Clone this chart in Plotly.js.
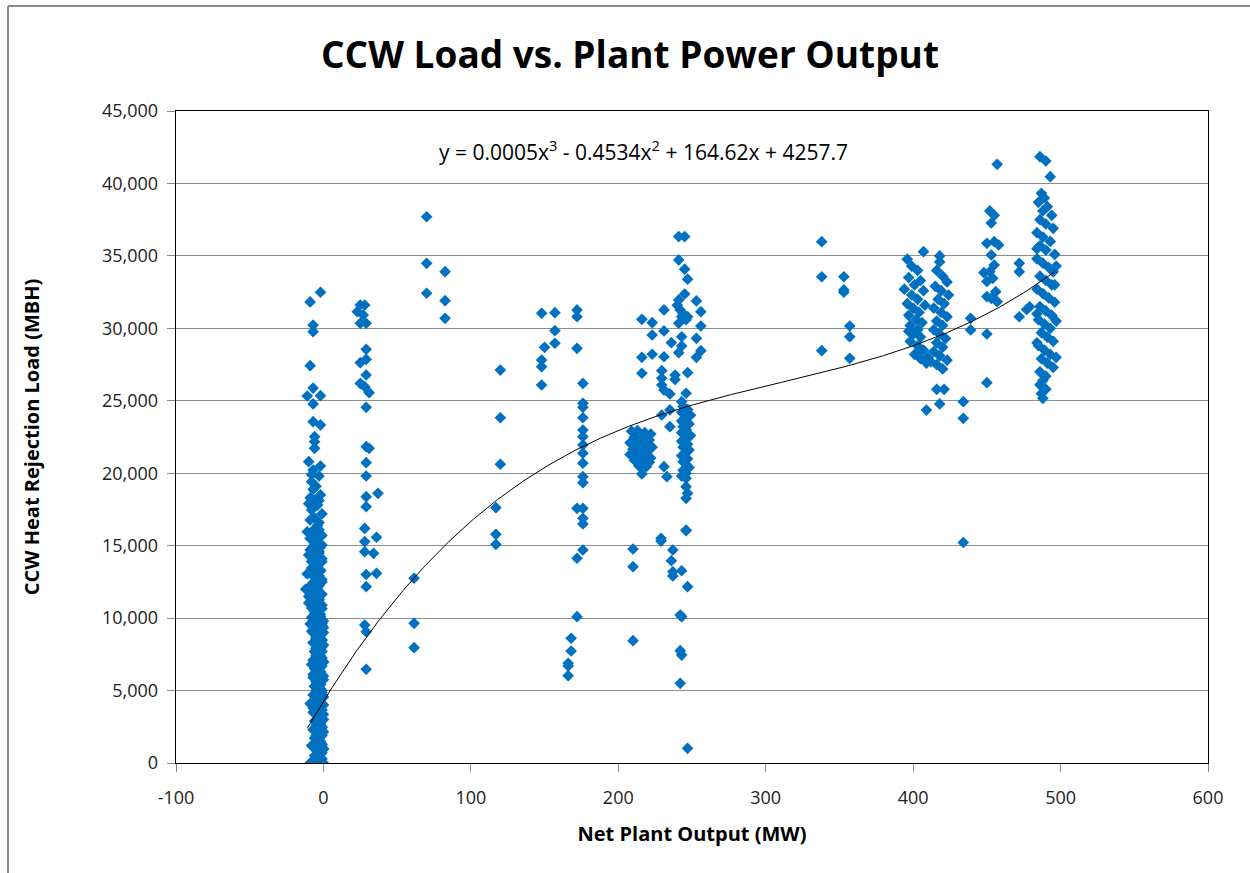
<!DOCTYPE html>
<html><head><meta charset="utf-8">
<script src="https://cdn.plot.ly/plotly-3.0.1.min.js"></script>
<style>html,body{margin:0;padding:0;background:#fff}#chart{width:1250px;height:873px}</style>
</head><body><div id="chart"></div>
<script>
// Net plant output (MW) and CCW heat rejection load (MBH), grouped by cluster
const offlineMW = [-2,-9,-7,-7,-9,-7,-11,-2,-7,-7,-2,-6,-6,-6,-10,-7,-3,-8,-7,-6,-3,-8,-9,-11,
  -5,-2,-9,-4,-1,-6,-3,-10,-2,-8,
  -4,-7,-2,-9,-5,-1,-8,-3,-10,-6,-1,-4,-8,-2,-11,-5,-1,-7,-3,-9,-12,-5,-1,-7,-3,-10,-4,-1,-6,-2,-8,
  -3,-6,-1,-4,-8,-2,-5,-1,-7,-3,-5,-1,-4,-2,-6,-3,-1,-5,-2,-7,-4,-1,-3,-6,-2,-4,-1,-5,-3,-1,-6,-2,-4,-1,-3,-5,-2,-1,-4,-2,-1,-3,-2,-1,-4,-2,-1,-3,-1,-5,-9,-6,-3,-1,0,-7,
  0,0,-1,0,0,-1,0,0,-1,0,-2,-2,-2,-2,-6,-5,-5,-7,-5,-8,-9,-10,-9,-8];
const offlineMBH = [32490,31820,30230,29770,27420,25880,25330,25350,24780,23560,23330,22520,22180,21720,20800,20220,19810,19420,18890,18150,18110,17460,16770,15960,
  19100,18500,18300,17800,17200,16900,16600,17900,20500,19900,
  16400,16050,15800,15500,15300,15050,14800,14600,14350,14150,13900,13700,13450,13250,13050,12850,12650,12450,12250,12050,12000,11850,11650,11450,11250,11050,10850,10650,10450,10250,10050,
  9900,9700,9500,9300,9100,8900,8700,8500,8300,8100,7900,7700,7500,7300,7100,6900,6700,6500,6300,6100,5900,5700,5500,5300,5100,4900,4700,4500,4300,4100,3900,3700,3500,3300,3100,2900,2700,2500,2300,2100,1900,1700,1500,1300,1100,900,700,500,300,150,0,0,0,0,0,100,
  9800,9000,8000,7000,6000,5000,4000,3000,2000,1000,8600,6600,4400,2400,9200,7600,5600,3800,1800,6800,9600,11500,4100,1200];

// the solid part of the offline column
const offlineDenseMW = [-1,-5,-3,-6,-2,-4,0,-7,-1,-5,-3,-6,-2,-4,0,-7,-1,-5,-3,-6,-2,-4,0,-7,-1,-5,-3,-6,-2,-4,0,-7,
  -1,-5,-3,-6,-2,-4,0,-7,-1,-5,-3,-6,-2,-4,0,-7,-1,-5,-3,-6,-2,-4,0,-7,-1,-5,-3,-6,-2,-4,0,-7,-1,-5,-3,
  -2,-6,-4,-8,-1,-5,-3,-9,-2,-6,-4,-8,-1,-5,-3,-9,-2,-6,-4,-8,-1,-5,-3,-9,-2,-6,-4,-8,-1,-5,-3,
  -3,-4,-2,-5,-3,-4,-2,-5,-3,-4,-2,-5,-3,-4,-2,-5,-3,-4,-2,-5];
const offlineDenseMBH = [50,200,350,500,650,800,950,1100,1250,1400,1550,1700,1850,2000,2150,2300,2450,2600,2750,2900,3050,3200,3350,3500,3650,3800,3950,4100,4250,4400,4550,4700,
  4850,5000,5150,5300,5450,5600,5750,5900,6050,6200,6350,6500,6650,6800,6950,7100,7250,7400,7550,7700,7850,8000,8150,8300,8450,8600,8750,8900,9050,9200,9350,9500,9650,9800,9950,
  10100,10300,10500,10700,10900,11100,11300,11500,11700,11900,12100,12300,12500,12700,12900,13100,13300,13500,13700,13900,14100,14300,14500,14700,14900,15100,15300,15500,15700,15900,16100,
  400,900,1400,1900,2400,2900,3400,3900,4400,4900,5400,5900,6400,6900,7400,7900,8400,8900,9400,9900];

const lowLoadMW = [25,28,23,27,25,29,29,25,29,29,25,28,31,29,29,31,29,29,37,29,29,28,36,28,28,34,36,29,29,28,29,
  61.5,61.5,61.5,70,70,70,82.5,82.5,82.5,120,120,120,117,117,117,29];
const lowLoadMBH = [31610,31610,31150,30920,30350,30350,28550,27630,27860,26780,26200,25970,25560,24550,21830,21720,20730,19810,18610,18380,17690,16190,15580,15280,14580,14470,13090,13010,12170,9520,9060,
  12750,9640,7960,37700,34490,32420,33910,31910,30690,27120,23830,20620,17620,15780,15090,6470];

const midLoadMW = [148,150,148,148,148,157,157,157,172,172,172,
  176,176,176,176,176,176,176,176,176,176,176,172,176,176,176,176,172,172,168,168,166,166,166];
const midLoadMBH = [31040,28690,27810,27350,26090,31080,29840,28970,31270,30800,28620,
  26200,24830,24550,23830,22980,22520,21950,21380,20690,19760,19350,17580,17580,16890,16500,14700,14130,10100,8610,7730,6880,6700,6030];

const halfLoadMW = [241,245,241,245,247,245,241,253,231,242,256,216,223,243,247,241,256,231,223,243,253,236,243,241,256,216,223,231,253,216,229.5,238.5,247,229.5,238.5,229.5,231,235,246,243,235,229.5,235,240,244,246,
  244,247,243,249,245,243,248,244,246,243,249,245,243,247,244,248,245,243,247,244,246,248,244,246,243,246,246,247,246,246,
  209,213,218,222,211,216,221,208,213,219,223,210,215,220,208,213,218,222,211,216,221,214,219,216,231,233,229,
  246,229,210,237,236,210,237,243,237,247,242,243,210,242,243,242,247];
const halfLoadMBH = [36330,36330,34720,34080,33390,32370,31960,31890,31270,31270,31150,30620,30390,30800,30800,30350,30160,29820,29540,29420,29310,29010,28780,28320,28460,28000,28210,28040,28000,26900,27080,26780,26940,26550,26460,26090,25740,25470,25520,24940,24370,24020,23210,31600,31000,30600,
  24600,24400,24200,24000,23800,23600,23400,23200,23000,22800,22600,22400,22200,22000,21800,21600,21400,21200,21000,20800,20600,20400,20200,20000,19800,19650,19070,18610,18270,16080,
  22900,22950,22800,22700,22500,22450,22300,22100,22050,21950,21800,21650,21600,21500,21300,21250,21150,21050,20900,20850,20750,20500,20450,19950,20450,19760,15510,
  16030,15320,14770,14700,13960,13550,13200,13270,12910,12170,10210,10100,8440,7750,7450,5500,1010];

const partLoadMW = [338,338,353,353,353,357,357,338,357];
const partLoadMBH = [35980,33560,33560,32650,32490,30160,29420,28460,27930];

const highLoadMW = [396,407,399,403,397,405,401,394,407,399,403,396,408,400,404,397,402,406,398,403,400,405,398,403,407,401,405,409,403,397,409,
  418,418,416,420,423,415,419,424,417,421,414,419,423,416,420,414,418,422,416,420,414,418,423,416,420,412,410,416,421,418,
  439,439,434,434,434,450,448,450,450,450,450];
const highLoadMBH = [34770,35290,34300,34000,33500,33300,33000,32700,32600,32300,32000,31700,31600,31400,31100,30900,30600,30400,30200,29900,29600,29400,29100,28800,28500,28200,27900,27600,28300,29800,24360,
  35000,34580,34000,33600,33200,32900,32600,32300,32000,31700,31400,31100,30800,30500,30200,29900,29600,29300,29000,28700,28400,28100,27800,27500,27200,27700,28000,25790,25790,24780,
  30690,29890,24940,23790,15220,35870,33840,33240,32190,29610,26250];

const fullLoadMW = [453,455,458,453,455,452,454,456,453,457,457,455,452,472,472,472,479,477,
  486,490,493,487,489,485,491,488,494,486,490,495,484,488,493,486,490,496,484,488,492,495,486,490,494,484,488,492,496,486,490,494,485,489,493,487,491,495,485,489,493,487,491,495,486,490,488,486,490,487,488,484,497,496,484,497,484,497];
const fullLoadMBH = [37270,35980,35750,35060,34370,33910,33450,32530,32070,31840,41320,37800,38100,34490,33910,30800,31490,31300,
  41850,41550,40470,39320,39000,38700,38400,38100,37800,37500,37200,36900,36600,36300,36000,35700,35400,35100,34800,34500,34200,33900,33600,33300,33000,32700,32400,32100,31800,31500,31200,30900,30600,30300,30000,29700,29400,29100,28800,28500,28200,27900,27600,27300,27000,26700,26400,26100,25800,25500,25170,35500,34300,33000,31000,30500,29000,28000];

// Polynomial trendline y = a x^3 + b x^2 + c x + d, as printed on the chart
const trendCoef = [0.000488, -0.4534, 164.62, 4257.7];
const trendRange = [-11, 496];
const trendLabel = 'y = 0.0005x<sup>3</sup> - 0.4534x<sup>2</sup> + 164.62x + 4257.7';

const xTickVals = [-100, 0, 100, 200, 300, 400, 500, 600];
const xTickText = ['-100', '0', '100', '200', '300', '400', '500', '600'];
const yTickVals = [0, 5000, 10000, 15000, 20000, 25000, 30000, 35000, 40000, 45000];
const yTickText = ['0', '5,000', '10,000', '15,000', '20,000', '25,000', '30,000', '35,000', '40,000', '45,000'];

const xs = [].concat(offlineMW, offlineDenseMW, lowLoadMW, midLoadMW, halfLoadMW, partLoadMW, highLoadMW, fullLoadMW);
const ys = [].concat(offlineMBH, offlineDenseMBH, lowLoadMBH, midLoadMBH, halfLoadMBH, partLoadMBH, highLoadMBH, fullLoadMBH);

const tx = [], ty = [];
for (let x = trendRange[0]; x <= trendRange[1]; x += 1) {
  tx.push(x);
  ty.push(((trendCoef[0] * x + trendCoef[1]) * x + trendCoef[2]) * x + trendCoef[3]);
}

const FONT = 'Open Sans, Liberation Sans, sans-serif';

const data = [
  {x: xs, y: ys, type: 'scatter', mode: 'markers', name: 'CCW Load',
   marker: {symbol: 'diamond', size: 9, color: '#0070C0', line: {width: 0}}},
  {x: tx, y: ty, type: 'scatter', mode: 'lines', name: 'Poly. (CCW Load)',
   line: {color: '#000000', width: 1}}
];

const layout = {
  width: 1250, height: 873,
  margin: {l: 176, r: 42, t: 111, b: 110},
  paper_bgcolor: '#ffffff', plot_bgcolor: '#ffffff',
  showlegend: false,
  font: {family: FONT, color: '#000'},
  title: {text: '<b>CCW Load vs. Plant Power Output</b>', font: {family: FONT, size: 37, color: '#000'},
          xref: 'container', yref: 'container', x: 0.504, xanchor: 'center', y: 0.937, yanchor: 'middle'},
  xaxis: {range: [-100, 600], tickvals: xTickVals, ticktext: xTickText, ticks: 'outside', ticklen: 8, tickcolor: '#888',
          ticklabelstandoff: 10,
          showgrid: false, zeroline: false, showline: true, linecolor: '#000', linewidth: 1.3, mirror: true,
          tickfont: {family: FONT, size: 18, color: '#222'},
          title: {text: '<b>Net Plant Output (MW)</b>', font: {family: FONT, size: 20, color: '#000'}, standoff: 19}},
  yaxis: {range: [0, 45000], tickvals: yTickVals, ticktext: yTickText, ticks: 'outside', ticklen: 8, tickcolor: '#888',
          ticklabelstandoff: 5,
          showgrid: true, gridcolor: '#8c8c8c', gridwidth: 1, zeroline: false,
          showline: true, linecolor: '#000', linewidth: 1.3, mirror: true,
          tickfont: {family: FONT, size: 18, color: '#222'},
          title: {text: '<b>CCW Heat Rejection Load (MBH)</b>', font: {family: FONT, size: 20, color: '#000'}, standoff: 57}},
  annotations: [
    {text: trendLabel, xref: 'paper', yref: 'paper', x: (643 - 176) / 1032, y: (763 - 150) / 652,
     xanchor: 'center', yanchor: 'middle', showarrow: false, font: {family: FONT, size: 21, color: '#000'}}
  ],
  shapes: [
    {type: 'line', xref: 'paper', yref: 'paper', x0: (8 - 176) / 1032, x1: (8 - 176) / 1032, y0: (763 - 6) / 652, y1: (763 - 873) / 652,
     line: {color: '#8a8a8a', width: 2}},
    {type: 'line', xref: 'paper', yref: 'paper', x0: (8 - 176) / 1032, x1: (1250 - 176) / 1032, y0: (763 - 6) / 652, y1: (763 - 6) / 652,
     line: {color: '#8a8a8a', width: 2}}
  ]
};

Plotly.newPlot('chart', data, layout, {staticPlot: true, displayModeBar: false});
</script></body></html>
